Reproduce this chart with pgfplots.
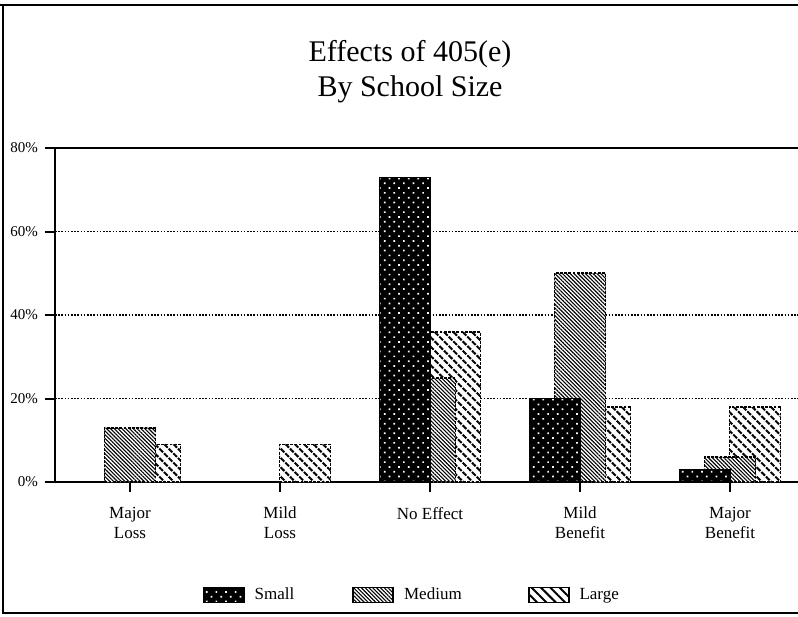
\documentclass[border=0pt]{standalone}
\usepackage{fontspec}
\setmainfont{Liberation Serif}
\usepackage{pgfplots}
\pgfplotsset{compat=1.18}
\usetikzlibrary{patterns.meta}

\tikzset{
  smallstyle/.style={draw=black, line width=0.6pt, fill=black,
     postaction={pattern={Dots[angle=45,distance=3.4pt,radius=0.6pt]}, pattern color=white}},
  mediumstyle/.style={draw=black, line width=0.9pt, dash pattern=on 1.4pt off 0.7pt,
     preaction={fill=white}, pattern={Lines[angle=-45,distance=1.35pt,line width=0.55pt]}},
  largestyle/.style={draw=black, line width=0.9pt, dash pattern=on 1.4pt off 0.7pt,
     preaction={fill=white}, pattern={Lines[angle=-45,distance=3.3pt,line width=1pt]}},
}

\begin{document}
\begin{tikzpicture}[x=1pt,y=1pt]
\begin{axis}[
  at={(65pt,67pt)}, anchor=origin,
  scale only axis, width=371.5pt, height=167pt,
  xmin=-0.5, xmax=4.4533, ymin=0, ymax=80,
  axis x line*=bottom, axis y line*=left,
  axis line style={-, line width=1.2pt, black},
  tick align=outside, major tick length=5pt,
  tick style={black, line width=1pt},
  ytick={0,20,40,60,80}, yticklabels={0\%,20\%,40\%,60\%,80\%},
  xtick={0,1,2,3,4},
  xticklabels={Major\\Loss, Mild\\Loss, No Effect, Mild\\Benefit, Major\\Benefit},
  xticklabel style={align=center, font=\fontsize{8.5}{10}\selectfont, yshift=-4pt},
  yticklabel style={font=\fontsize{7.5}{9}\selectfont},
  ymajorgrids,
  grid style={black, line width=0.9pt, dash pattern=on 0.8pt off 0.8pt},
  clip=false,
  legend columns=3,
  legend style={draw=none, fill=none, inner sep=0pt,
     at={(axis cs:0.487,-27.07)}, anchor=west,
     font=\fontsize{8.5}{10}\selectfont,
     /tikz/every odd column/.append style={column sep=3pt},
     /tikz/every even column/.append style={column sep=27pt}},
  legend image code/.code={\draw[#1, solid] (0pt,-3.75pt) rectangle (20pt,3.75pt);},
]
\addplot[ybar, bar width=0.34, bar shift=0.1667, largestyle, forget plot]
  coordinates {(0,9) (1,9) (2,36) (3,18) (4,18)};
\addplot[ybar, bar width=0.34, bar shift=0, mediumstyle, forget plot]
  coordinates {(0,13) (2,25) (3,50) (4,6)};
\addplot[ybar, bar width=0.34, bar shift=-0.1667, smallstyle, forget plot]
  coordinates {(2,73) (3,20) (4,3)};
\draw[line width=1.2pt] (rel axis cs:0,1) -- (rel axis cs:1,1);
\addlegendimage{smallstyle}
\addlegendentry{Small}
\addlegendimage{mediumstyle}
\addlegendentry{Medium\hspace*{4pt}}
\addlegendimage{largestyle}
\addlegendentry{Large}
\end{axis}
% outer frame
\draw[line width=1.1pt] (0,305.5) -- (399,305.5);
\draw[line width=1.1pt] (1.5,306) -- (1.5,1);
\draw[line width=1.1pt] (1,1.5) -- (399,1.5);
% title
\node[anchor=base, font=\fontsize{15}{18}\selectfont] at (205,277) {Effects of 405(e)};
\node[anchor=base, font=\fontsize{15}{18}\selectfont] at (205,259.5) {By School Size};
\pgfresetboundingbox
\useasboundingbox (0,0) rectangle (399,308);
\end{tikzpicture}
\end{document}
